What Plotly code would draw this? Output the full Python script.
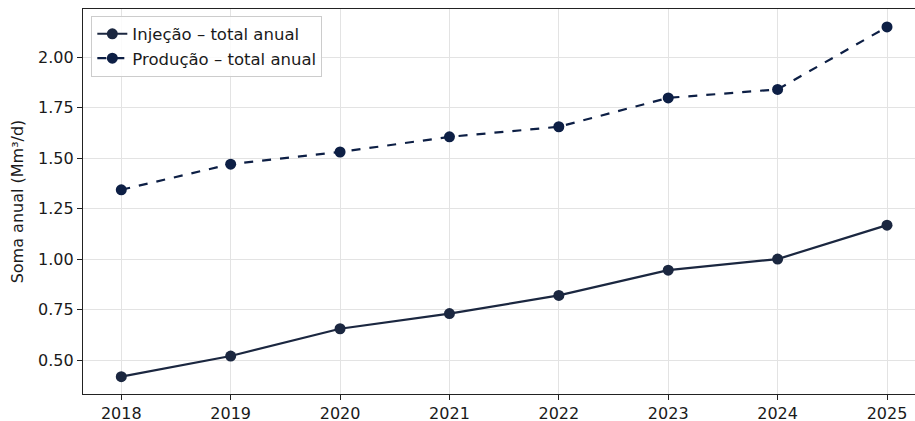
import plotly.graph_objs as go

# annual totals
years = [2018, 2019, 2020, 2021, 2022, 2023, 2024, 2025]
injecao = [0.418, 0.52, 0.655, 0.73, 0.82, 0.945, 1.0, 1.168]
producao = [1.343, 1.47, 1.53, 1.605, 1.655, 1.798, 1.84, 2.149]

font = dict(family="DejaVu Sans", size=16, color="#1a1a1a")

fig = go.Figure()

fig.add_trace(go.Scatter(
    x=years, y=injecao, mode="lines+markers",
    name="Injeção – total anual",
    line=dict(color="#1b2740", width=2.2),
    marker=dict(color="#1b2740", size=11),
))
fig.add_trace(go.Scatter(
    x=years, y=producao, mode="lines+markers",
    name="Produção – total anual",
    line=dict(color="#0d1f45", width=2.2, dash="dash"),
    marker=dict(color="#0d1f45", size=11),
))

fig.update_layout(
    width=915, height=421,
    margin=dict(l=83, r=0, t=9, b=27),
    paper_bgcolor="white", plot_bgcolor="white",
    font=font,
    showlegend=True,
    legend=dict(x=0.01, y=0.983, xanchor="left", yanchor="top",
                bgcolor="rgba(255,255,255,0.85)", bordercolor="#cccccc",
                borderwidth=1, font=dict(family="DejaVu Sans", size=16.5, color="#1a1a1a")),
    xaxis=dict(range=[2017.65, 2025.256], tickvals=years, automargin=False,
               showgrid=True, gridcolor="#e3e3e3", gridwidth=1,
               showline=True, linecolor="#222222", linewidth=1.2, mirror=True,
               ticks="outside", ticklen=5, tickcolor="#222222",
               zeroline=False),
    yaxis=dict(range=[0.332, 2.238], tickvals=[0.5, 0.75, 1.0, 1.25, 1.5, 1.75, 2.0],
               tickformat=".2f", automargin=False,
               title=dict(text="Soma anual (Mm³/d)", standoff=10,
                          font=dict(family="DejaVu Sans", size=16, color="#1a1a1a")),
               showgrid=True, gridcolor="#e3e3e3", gridwidth=1,
               showline=True, linecolor="#222222", linewidth=1.2,
               ticks="outside", ticklen=5, tickcolor="#222222",
               zeroline=False),
)

# drop the browser's default body margin so the figure fills the window
fig.write_html("out.html", config={"displayModeBar": False},
               post_script="document.body.style.margin='0';document.body.style.overflow='hidden';")
